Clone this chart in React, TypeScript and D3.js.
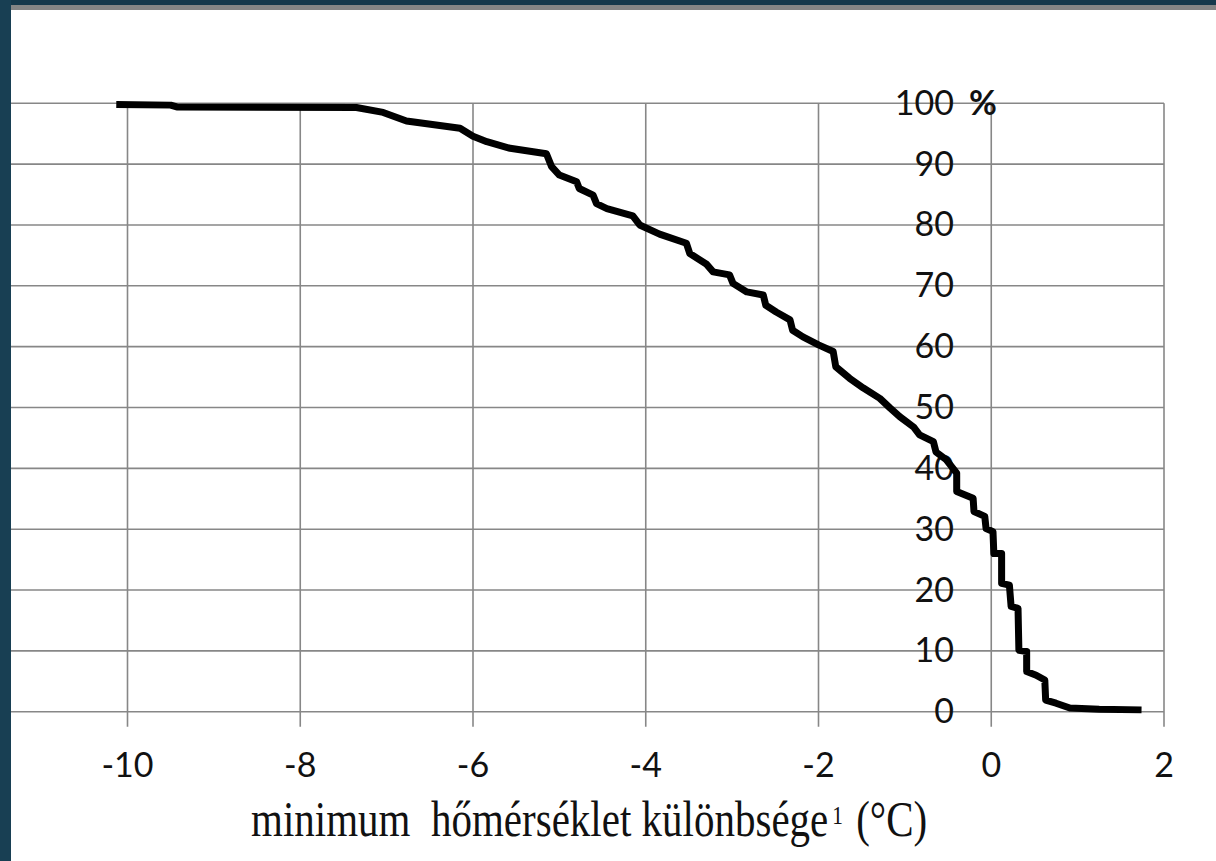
import React from "react";
import * as d3 from "d3";

// Cumulative curve: x = temperature difference (°C), y = percent
const curveX: number[] = [
  -10.13, -9.5, -9.43, -7.35, -7.04, -6.77, -6.15, -6.0, -5.84, -5.57, -5.15, -5.09,
  -5.0, -4.8, -4.77, -4.61, -4.57, -4.45, -4.15, -4.07, -3.84, -3.53, -3.49, -3.3,
  -3.22, -3.03, -2.99, -2.83, -2.64, -2.61, -2.49, -2.33, -2.3, -2.18, -2.0, -1.83,
  -1.8, -1.64, -1.48, -1.29, -1.17, -1.06, -0.9, -0.83, -0.67, -0.64, -0.52, -0.4,
  -0.4, -0.21, -0.2, -0.075, -0.06, 0.02, 0.03, 0.12, 0.12, 0.21, 0.23, 0.31,
  0.32, 0.41, 0.41, 0.52, 0.62, 0.63, 0.75, 0.91, 1.25, 1.74,
];
const curveY: number[] = [
  99.8, 99.7, 99.4, 99.3, 98.5, 97.1, 95.9, 94.6, 93.7, 92.6, 91.7, 89.6,
  88.2, 87.1, 86.0, 84.9, 83.5, 82.7, 81.5, 80.0, 78.5, 77.0, 75.3, 73.6,
  72.3, 71.8, 70.4, 69.0, 68.5, 66.8, 65.7, 64.4, 62.7, 61.6, 60.3, 59.2,
  56.7, 54.8, 53.2, 51.5, 49.9, 48.5, 46.8, 45.5, 44.4, 42.7, 41.4, 39.2,
  36.2, 35.1, 32.9, 32.1, 30.1, 29.6, 26.0, 26.0, 21.1, 20.8, 17.3, 17.0,
  10.1, 9.9, 6.6, 6.0, 5.2, 1.9, 1.4, 0.6, 0.4, 0.3,
];

const xTicks: number[] = [-10, -8, -6, -4, -2, 0, 2];
const xTickLabels: string[] = ["-10", "-8", "-6", "-4", "-2", "0", "2"];
const yTicks: number[] = [0, 10, 20, 30, 40, 50, 60, 70, 80, 90, 100];
const yTickLabels: string[] = ["0", "10", "20", "30", "40", "50", "60", "70", "80", "90", "100"];
const yUnit = "%";
const titleMain = "minimum  hőmérséklet különbsége";
const titleSup = "1";
const titleEnd = "(°C)";

const W = 1216;
const H = 861;
const FRAME_L = 11;
const GRID = "#878787";
const NUM_FONT = "Lato, 'Open Sans', sans-serif";
const SERIF = "'Liberation Serif', 'Times New Roman', serif";

export default function App() {
  const x = d3.scaleLinear().domain([-10, 2]).range([127.5, 1164]);
  const y = d3.scaleLinear().domain([0, 100]).range([711.7, 103.3]);
  const pts: [number, number][] = curveX.map((v, i) => [v, curveY[i]]);
  const line = d3
    .line<[number, number]>()
    .x((d) => x(d[0]))
    .y((d) => y(d[1]));
  const yTop = y(100);
  const yBottom = y(0);
  const tickLen = 15;

  return (
    <div style={{ position: "absolute", left: 0, top: 0 }}>
      <svg width={W} height={H} style={{ display: "block" }}>
        <rect x={0} y={0} width={W} height={H} fill="#ffffff" />
        {/* frame */}
        <rect x={0} y={0} width={W} height={5} fill="#15384b" />
        <rect x={0} y={5} width={W} height={5} fill="#858585" />
        <rect x={0} y={0} width={FRAME_L} height={H} fill="#183f53" />

        {/* horizontal gridlines */}
        {yTicks.map((t) => (
          <line key={"h" + t} x1={FRAME_L} x2={x(2)} y1={y(t)} y2={y(t)} stroke={GRID} strokeWidth={1.6} />
        ))}
        {/* vertical gridlines + ticks */}
        {xTicks.map((t) => (
          <line key={"v" + t} x1={x(t)} x2={x(t)} y1={yTop} y2={yBottom + tickLen} stroke={GRID} strokeWidth={1.6} />
        ))}

        {/* y tick labels */}
        {yTicks.map((t, i) => (
          <text
            key={"yl" + t}
            x={954}
            y={y(t) + 11.5}
            textAnchor="end"
            fontFamily={NUM_FONT}
            fontSize={34}
            fill="#111"
          >
            {yTickLabels[i]}
          </text>
        ))}
        <text x={969} y={y(100) + 11.5} fontFamily={NUM_FONT} fontSize={34} fontWeight={700} fill="#111">
          {yUnit}
        </text>

        {/* x tick labels */}
        {xTicks.map((t, i) => (
          <text
            key={"xl" + t}
            x={x(t)}
            y={777}
            textAnchor="middle"
            fontFamily={NUM_FONT}
            fontSize={34}
            fill="#111"
          >
            {xTickLabels[i]}
          </text>
        ))}

        {/* curve */}
        <path
          d={line(pts) || ""}
          fill="none"
          stroke="#000"
          strokeWidth={7}
          strokeLinejoin="round"
          strokeLinecap="butt"
        />

        {/* axis title (horizontally condensed like the reference) */}
        <g transform="translate(251,836) scale(0.82,1)">
          <text x={0} y={0} fontFamily={SERIF} fontSize={50} fill="#111" style={{ whiteSpace: "pre" }}>
            {titleMain}
          </text>
          <text x={709} y={-12} fontFamily={SERIF} fontSize={26} fill="#111">
            {titleSup}
          </text>
          <text x={738} y={0} fontFamily={SERIF} fontSize={50} fill="#111">
            {titleEnd}
          </text>
        </g>
      </svg>
    </div>
  );
}
